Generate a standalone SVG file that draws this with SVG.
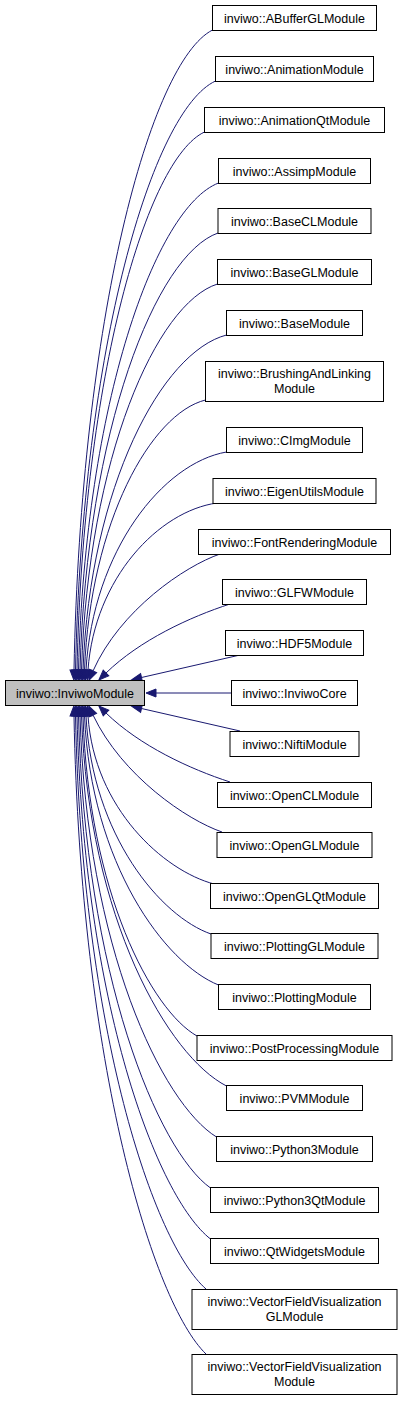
<svg xmlns="http://www.w3.org/2000/svg" width="403" height="1401" viewBox="0 0 403 1401">
<defs>
<style>
.n rect{fill:#fff;stroke:#000;stroke-width:1}
.n.main rect{fill:#bfbfbf}
.n text{font-family:"Liberation Sans",Arial,sans-serif;font-size:12.5px;fill:#000;text-anchor:middle}
.e path{fill:none;stroke:#191970;stroke-width:1;marker-end:url(#ah)}
</style>
<marker id="ah" markerUnits="userSpaceOnUse" markerWidth="10" markerHeight="8" viewBox="0 0 10 8" refX="0" refY="4" orient="auto" overflow="visible"><path d="M0,0 L10,4 L0,8 z" fill="#191970" stroke="#191970" stroke-width="1"/></marker>
</defs>
<rect width="403" height="1401" fill="#fff"/>
<g id="edges" class="e">
<path d="M212.5,30 C150.2,62 80.9,318 74,670"/>
<path d="M215.5,81 C152.5,110.5 82.5,346 75.5,670"/>
<path d="M204.5,132 C147.1,158.9 83.4,374.1 77,670"/>
<path d="M218.5,183 C155.5,207.4 85.5,402.2 78.5,670"/>
<path d="M218,233 C155.9,254.9 86.9,429.7 80,670"/>
<path d="M217.5,284 C156.3,303.3 88.3,457.7 81.5,670"/>
<path d="M226.5,335 C161.9,351.8 90.2,485.8 83,670"/>
<path d="M205.5,400 C151.1,413.5 90.6,521.5 84.5,670"/>
<path d="M226.5,452 C163.3,462.9 93,550.1 86,670"/>
<path d="M217,503 C159,511 94.5,578 88,670"/>
<path d="M220,554 C185,566 120,610 93,671"/>
<path d="M230,604 C190,617 140,640 106,673"/>
<path d="M240,655 L141.5,677.5"/>
<path d="M232,693 L156,693"/>
<path d="M240,731 L141.5,708.5"/>
<path d="M230,782 C190,769 140,746 106,713"/>
<path d="M222,832 C187,820 122,776 93,715"/>
<path d="M214,884 C163.6,870.6 94.3,808.4 88,716"/>
<path d="M211,934 C161,916.6 92.3,835.9 86,716"/>
<path d="M218.5,985 C164.9,963.5 91.2,864 84.5,716"/>
<path d="M197,1036 C151.4,1010.4 88.7,892 83,716"/>
<path d="M226.5,1086 C168.5,1056.4 88.8,919.5 81.5,716"/>
<path d="M216.5,1137 C161.9,1103.3 86.8,947.6 80,716"/>
<path d="M210.5,1188 C157.7,1150.2 85.1,975.6 78.5,716"/>
<path d="M210.5,1239 C157.1,1197.2 83.7,1003.7 77,716"/>
<path d="M206,1289 C153.8,1243.2 82,1031.2 75.5,716"/>
<path d="M206,1354 C153.2,1303 80.6,1066.9 74,716"/>
</g>
<g id="InviwoModule" class="n main"><rect x="5.5" y="680.5" width="139" height="25"/><text x="75" y="697.5">inviwo::InviwoModule</text></g>
<g id="ABufferGLModule" class="n"><rect x="212.5" y="5.5" width="164" height="25"/><text x="294.5" y="22.5">inviwo::ABufferGLModule</text></g>
<g id="AnimationModule" class="n"><rect x="215.5" y="56.5" width="158" height="25"/><text x="294.5" y="73.5">inviwo::AnimationModule</text></g>
<g id="AnimationQtModule" class="n"><rect x="204.5" y="107.5" width="180" height="25"/><text x="294.5" y="124.5">inviwo::AnimationQtModule</text></g>
<g id="AssimpModule" class="n"><rect x="218.5" y="158.5" width="152" height="25"/><text x="294.5" y="175.5">inviwo::AssimpModule</text></g>
<g id="BaseCLModule" class="n"><rect x="218" y="208.5" width="153" height="25"/><text x="294.5" y="225.5">inviwo::BaseCLModule</text></g>
<g id="BaseGLModule" class="n"><rect x="217.5" y="259.5" width="154" height="25"/><text x="294.5" y="276.5">inviwo::BaseGLModule</text></g>
<g id="BaseModule" class="n"><rect x="226.5" y="310.5" width="136" height="25"/><text x="294.5" y="327.5">inviwo::BaseModule</text></g>
<g id="BrushingAndLinkingModule" class="n"><rect x="205.5" y="361.5" width="178" height="40"/><text x="294.5" y="378">inviwo::BrushingAndLinking</text><text x="294.5" y="393">Module</text></g>
<g id="CImgModule" class="n"><rect x="226.5" y="427.5" width="136" height="25"/><text x="294.5" y="444.5">inviwo::CImgModule</text></g>
<g id="EigenUtilsModule" class="n"><rect x="213" y="478.5" width="163" height="25"/><text x="294.5" y="495.5">inviwo::EigenUtilsModule</text></g>
<g id="FontRenderingModule" class="n"><rect x="198.5" y="529.5" width="192" height="25"/><text x="294.5" y="546.5">inviwo::FontRenderingModule</text></g>
<g id="GLFWModule" class="n"><rect x="222.5" y="579.5" width="144" height="25"/><text x="294.5" y="596.5">inviwo::GLFWModule</text></g>
<g id="HDF5Module" class="n"><rect x="225.5" y="630.5" width="138" height="25"/><text x="294.5" y="647.5">inviwo::HDF5Module</text></g>
<g id="InviwoCore" class="n"><rect x="231.5" y="680.5" width="126" height="25"/><text x="294.5" y="697.5">inviwo::InviwoCore</text></g>
<g id="NiftiModule" class="n"><rect x="230" y="731.5" width="129" height="25"/><text x="294.5" y="748.5">inviwo::NiftiModule</text></g>
<g id="OpenCLModule" class="n"><rect x="217.5" y="782.5" width="154" height="25"/><text x="294.5" y="799.5">inviwo::OpenCLModule</text></g>
<g id="OpenGLModule" class="n"><rect x="217" y="832.5" width="155" height="25"/><text x="294.5" y="849.5">inviwo::OpenGLModule</text></g>
<g id="OpenGLQtModule" class="n"><rect x="210.5" y="883.5" width="168" height="25"/><text x="294.5" y="900.5">inviwo::OpenGLQtModule</text></g>
<g id="PlottingGLModule" class="n"><rect x="211" y="933.5" width="167" height="25"/><text x="294.5" y="950.5">inviwo::PlottingGLModule</text></g>
<g id="PlottingModule" class="n"><rect x="218.5" y="984.5" width="152" height="25"/><text x="294.5" y="1001.5">inviwo::PlottingModule</text></g>
<g id="PostProcessingModule" class="n"><rect x="197" y="1035.5" width="195" height="25"/><text x="294.5" y="1052.5">inviwo::PostProcessingModule</text></g>
<g id="PVMModule" class="n"><rect x="226.5" y="1085.5" width="136" height="25"/><text x="294.5" y="1102.5">inviwo::PVMModule</text></g>
<g id="Python3Module" class="n"><rect x="216.5" y="1136.5" width="156" height="25"/><text x="294.5" y="1153.5">inviwo::Python3Module</text></g>
<g id="Python3QtModule" class="n"><rect x="210.5" y="1187.5" width="168" height="25"/><text x="294.5" y="1204.5">inviwo::Python3QtModule</text></g>
<g id="QtWidgetsModule" class="n"><rect x="210.5" y="1238.5" width="168" height="25"/><text x="294.5" y="1255.5">inviwo::QtWidgetsModule</text></g>
<g id="VectorFieldVisualizationGLModule" class="n"><rect x="192" y="1289.5" width="205" height="40"/><text x="294.5" y="1306">inviwo::VectorFieldVisualization</text><text x="294.5" y="1321">GLModule</text></g>
<g id="VectorFieldVisualizationModule" class="n"><rect x="192" y="1354.5" width="205" height="40"/><text x="294.5" y="1371">inviwo::VectorFieldVisualization</text><text x="294.5" y="1386">Module</text></g>
</svg>
